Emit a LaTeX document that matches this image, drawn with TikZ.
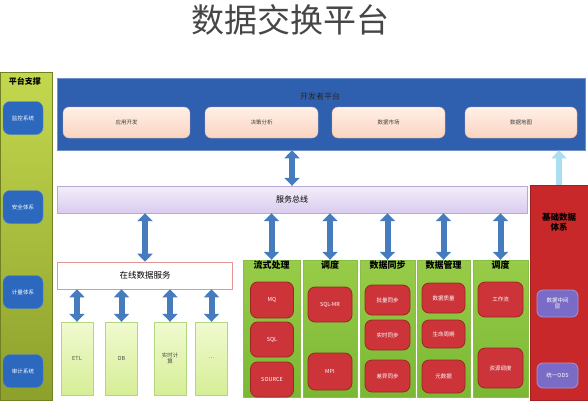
\documentclass[tikz,border=0pt]{standalone}
\usepackage{fontspec}
\setmainfont{Noto Sans CJK SC}
\usetikzlibrary{arrows.meta, positioning, calc}
\definecolor{TitleGray}{RGB}{70,70,70}
\definecolor{DevBlue}{RGB}{47,96,176}
\definecolor{PeachTop}{RGB}{255,240,232}
\definecolor{PeachBot}{RGB}{250,212,192}
\definecolor{PeachLine}{RGB}{226,170,140}
\definecolor{BusTop}{RGB}{243,238,250}
\definecolor{BusBot}{RGB}{218,204,238}
\definecolor{BusLine}{RGB}{185,168,214}
\definecolor{ArrowBlue}{RGB}{70,124,190}
\definecolor{LightArrow}{RGB}{170,222,240}
\definecolor{PanelTop}{RGB}{152,204,72}
\definecolor{PanelBot}{RGB}{122,184,52}
\definecolor{ColTop}{RGB}{196,216,78}
\definecolor{ColBot}{RGB}{140,160,44}
\definecolor{SideBlue}{RGB}{44,104,190}
\definecolor{BoxRed}{RGB}{204,52,58}
\definecolor{BoxRedLine}{RGB}{150,44,30}
\definecolor{PanelRed}{RGB}{200,40,42}
\definecolor{BoxPurple}{RGB}{122,108,198}
\definecolor{PaleTop}{RGB}{240,250,208}
\definecolor{PaleBot}{RGB}{214,238,150}
\definecolor{PaleLine}{RGB}{180,214,130}
\definecolor{OnlineLine}{RGB}{226,150,150}
\tikzset{
  tiny text/.style={font=\fontsize{5.5}{6.5}\selectfont},
  devpanel/.style={fill=DevBlue, draw=DevBlue!70!white, line width=0.6pt},
  peachbox/.style={rounded corners=6pt, top color=PeachTop, bottom color=PeachBot, draw=PeachLine, tiny text, text=black!75},
  busbox/.style={top color=BusTop, bottom color=BusBot, draw=BusLine, font=\fontsize{8}{9}\selectfont},
  dblarrow/.style={line width=6pt, ArrowBlue, {Triangle[width=15pt,length=8pt]}-{Triangle[width=15pt,length=8pt]}},
  uparrow/.style={line width=6pt, LightArrow, -{Triangle[width=15pt,length=8pt]}},
  sidecol/.style={top color=ColTop, bottom color=ColBot, draw=ColBot!80!black, line width=0.4pt},
  sidebox/.style={rounded corners=7pt, fill=SideBlue, draw=SideBlue!80!white, text=white, tiny text, minimum width=40pt, minimum height=33pt},
  onlinebox/.style={fill=white, draw=OnlineLine, line width=0.6pt, font=\fontsize{8.5}{9}\selectfont},
  palebox/.style={top color=PaleTop, bottom color=PaleBot, draw=PaleLine, tiny text, text=black!70, align=center, minimum width=32pt, minimum height=73pt},
  panel/.style={top color=PanelTop, bottom color=PanelBot, draw=PanelBot!90!white, minimum height=137pt},
  paneltitle/.style={font=\fontsize{9}{10}\selectfont\bfseries, text=black, anchor=north, inner sep=1pt},
  redbox/.style={rounded corners=7pt, fill=BoxRed, draw=BoxRedLine, line width=0.8pt, text=white, tiny text, minimum width=43pt},
  redpanel/.style={fill=PanelRed, draw=PanelRed!80!black},
  purplebox/.style={rounded corners=6pt, fill=BoxPurple, draw=BoxPurple!70!white, line width=0.8pt, text=white, tiny text, align=center, minimum width=41pt}
}
\begin{document}
\begin{tikzpicture}[x=1pt, y=-1pt]
  \useasboundingbox (0,0) rectangle (588,400);
  % Title
  \node[font=\fontsize{33}{36}\selectfont, TitleGray] (title) at (290,20) {数据交换平台};
  % Platform support column
  \node[sidecol, minimum width=52pt, minimum height=328pt, anchor=north west] (support) at (0,72) {};
  \node[font=\fontsize{8}{9}\selectfont\bfseries, text=black] (supporttitle) at (25,81) {平台支撑};
  \node[sidebox] (monitor) at (23,118) {监控系统};
  \node[sidebox] (security) at (23,207) {安全体系};
  \node[sidebox] (metering) at (23,292) {计量体系};
  \node[sidebox] (audit) at (23,371) {审计系统};
  % Developer platform
  \node[devpanel, minimum width=528pt, minimum height=72pt] (dev) at (321,114) {};
  \node[font=\fontsize{8}{9}\selectfont, text=black!85] (devtitle) at (320,96) {开发者平台};
  \node[peachbox, minimum width=127pt, minimum height=31pt] (appdev) at (126.5,122.5) {应用开发};
  \node[peachbox, minimum width=113pt, minimum height=31pt] (decision) at (261.5,122.5) {决策分析};
  \node[peachbox, minimum width=113pt, minimum height=31pt] (market) at (388.5,122.5) {数据市场};
  \node[peachbox, minimum width=112pt, minimum height=31pt] (datamap) at (521,122.5) {数据地图};
  % Service bus
  \node[busbox, minimum width=470pt, minimum height=27pt] (bus) at (292,199.5) {服务总线};
  \draw[dblarrow] (bus.north) -- (bus.north |- dev.south);
  % Online data service
  \node[onlinebox, minimum width=175pt, minimum height=27pt] (online) at (145,275.5) {在线数据服务};
  \node[palebox] (etl) at (77,358.5) {ETL};
  \node[palebox] (db) at (121.5,358.5) {DB};
  \node[palebox] (realtime) at (170,358.5) {实时计\\算};
  \node[palebox] (more) at (211.5,358.5) {…};
  \foreach \b in {etl, db, realtime, more}
    \draw[dblarrow] (\b.north) -- (\b.north |- online.south);
  % Green panels
  \node[panel, minimum width=57pt] (stream) at (271.5,328.5) {};
  \node[panel, minimum width=54pt] (sched) at (330,328.5) {};
  \node[panel, minimum width=55pt] (sync) at (387.5,328.5) {};
  \node[panel, minimum width=53pt] (manage) at (443.5,328.5) {};
  \node[panel, minimum width=55pt] (resource) at (500.5,328.5) {};
  \node[paneltitle] at (stream.north) {流式处理};
  \node[paneltitle] at (sched.north) {调度};
  \node[paneltitle] at (sync.north) {数据同步};
  \node[paneltitle] at (manage.north) {数据管理};
  \node[paneltitle] at (resource.north) {调度};
  \foreach \p in {online, stream, sched, sync, manage, resource}
    \draw[dblarrow] (\p.north) -- (\p.north |- bus.south);
  % Stream processing
  \node[redbox, minimum height=36pt] (mq) at (272,300) {MQ};
  \node[redbox, minimum height=35pt] (cep) at (272,339.5) {SQL};
  \node[redbox, minimum height=35pt] (source) at (272,379.5) {SOURCE};
  % Scheduling
  \node[redbox, minimum width=44pt, minimum height=35pt] (sqlmr) at (330,304.5) {SQL-MR};
  \node[redbox, minimum width=44pt, minimum height=37pt] (mpi) at (330,371.5) {MPI};
  % Data sync
  \node[redbox, minimum width=45pt, minimum height=30pt] (batch) at (387.5,300) {批量同步};
  \node[redbox, minimum width=45pt, minimum height=30pt] (rtsync) at (387.5,335) {实时同步};
  \node[redbox, minimum width=45pt, minimum height=32pt] (diff) at (387.5,376) {差异同步};
  % Data management
  \node[redbox, minimum height=30pt] (quality) at (443.5,298) {数据质量};
  \node[redbox, minimum height=28pt] (lifecycle) at (443.5,334) {生命周期};
  \node[redbox, minimum height=33pt] (meta) at (443.5,376.5) {元数据};
  % Resource scheduling
  \node[redbox, minimum width=45pt, minimum height=35pt] (workflow) at (500.5,299.5) {工作流};
  \node[redbox, minimum width=45pt, minimum height=40pt] (ressched) at (500.5,368) {资源调度};
  % Basic data system
  \node[redpanel, minimum width=58pt, minimum height=215pt] (basic) at (559,292.5) {};
  \node[font=\fontsize{8.5}{10}\selectfont\bfseries, text=black, align=center] (basictitle) at (559,222) {基础数据\\体系};
  \node[purplebox, minimum height=27pt] (midlayer) at (557.5,303.5) {数据中间\\层};
  \node[purplebox, minimum height=25pt] (ods) at (557.5,375.5) {统一ODS};
  \draw[uparrow] (basic.north) -- (basic.north |- dev.south);
\end{tikzpicture}
\end{document}
